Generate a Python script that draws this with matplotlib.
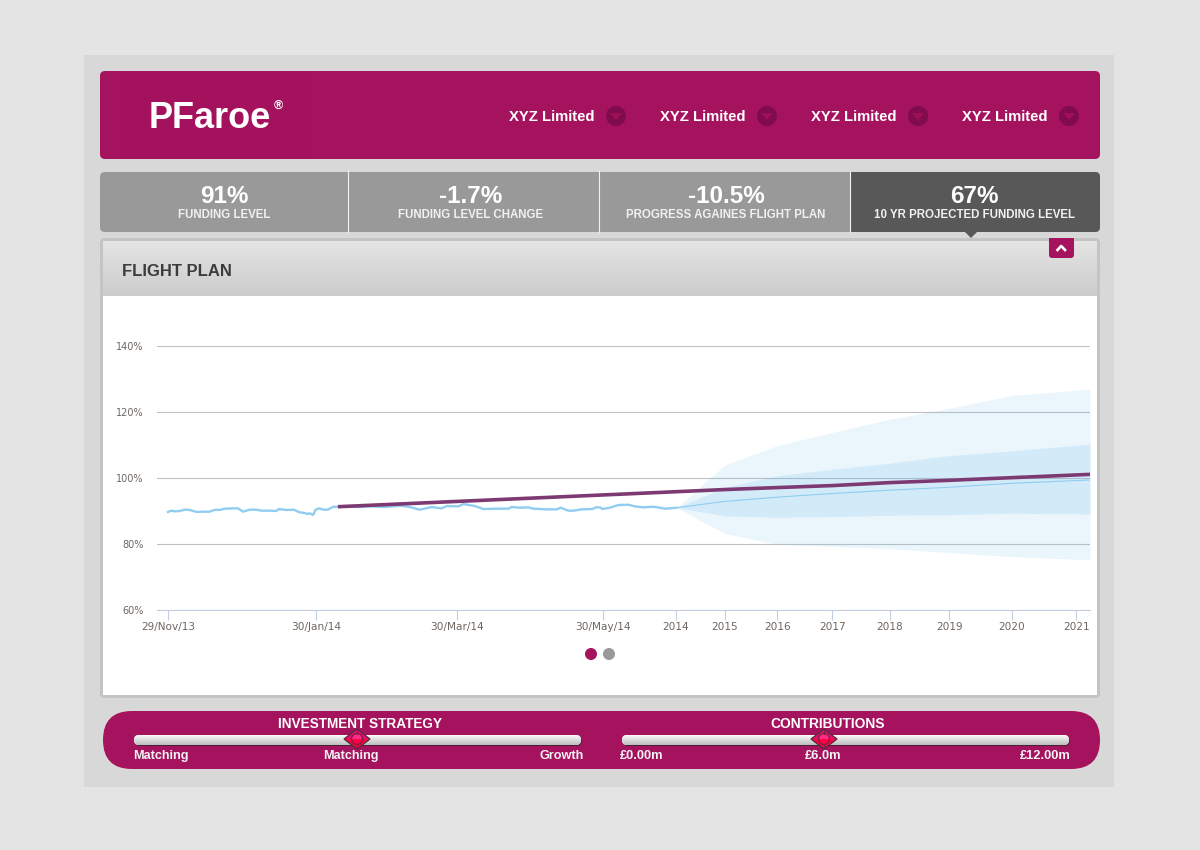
"""
PFaroe flight plan dashboard: funding level history, projection and funnel bands
"""
import numpy as np
import matplotlib
matplotlib.use("Agg")
import matplotlib.pyplot as plt
from matplotlib.patches import FancyBboxPatch, Polygon, Circle, Rectangle, Wedge

plt.rcParams["font.family"] = ["Liberation Sans", "DejaVu Sans"]

MAGENTA = "#a5135f"

# x values are days since 29/Nov/13
hist_days = [0, 1.4, 2.8, 4.9, 7.0, 9.1, 12.1, 14.6, 17.4, 19.9, 21.6, 23.7, 27.2, 29.3, 31.4, 34.2,
             37.0, 39.1, 42.5, 45.3, 46.4, 49.5, 52.6, 55.1, 57.2, 58.2, 59.3, 60.7, 61.8, 63.2, 65.1,
             66.9, 68.8, 71.1, 75, 80, 85, 90, 94, 97.1, 100.6, 105.4, 110.3, 114.5, 116.6, 121.5, 123.6,
             128.5, 131.9, 137.5, 142.4, 143.8, 147.3, 150.8, 152.8, 158.4, 162.6, 164.3, 167.5, 169.6,
             173.1, 177.7, 179, 180.8, 181.7, 184.9, 188.4, 192.6, 195.4, 198.9, 203.1, 208, 212.8]
hist_funding = [89.7, 90.1, 89.9, 90.0, 90.4, 90.3, 89.7, 89.8, 89.8, 90.4, 90.3, 90.7, 90.8, 90.8, 89.8, 90.4,
                90.4, 90.1, 90.1, 90.0, 90.6, 90.3, 90.4, 89.6, 89.4, 89.1, 89.3, 88.8, 90.4, 90.8, 90.4,
                90.4, 91.2, 91.3, 91.3, 91.2, 91.4, 91.2, 91.4, 91.6, 91.3, 90.4, 91.2, 90.8, 91.5, 91.4, 92.1,
                91.5, 90.6, 90.7, 90.7, 91.2, 91.0, 91.1, 90.7, 90.5, 90.5, 91.0, 90.1, 90.1,
                90.5, 90.6, 91.1, 91.1, 90.6, 91.0, 91.8, 91.9, 91.4, 91.1, 91.3, 90.7, 91.0]

proj_days = [212.8, 233, 255, 278, 302, 327, 353, 385.8]
proj_median = [91.0, 92.9, 94.2, 95.3, 96.3, 97.2, 98.4, 99.4]
outer_high = [91.0, 103.9, 109.8, 113.8, 117.8, 121.1, 125.0, 126.9]
outer_low = [91.0, 83.2, 79.9, 79.3, 78.6, 77.4, 76.2, 75.2]
inner_high = [91.0, 97.2, 100.7, 102.6, 104.5, 106.8, 108.2, 110.3]
inner_low = [91.0, 88.5, 88.1, 88.3, 88.7, 88.9, 89.3, 89.1]

plan_days = [71.1, 233, 255, 278, 302, 327, 353, 385.8]
plan_funding = [91.3, 96.5, 97.1, 97.7, 98.6, 99.3, 100.1, 101.1]

tick_days = [0, 62, 121, 182, 212.4, 233, 255, 278, 302, 327, 353, 380]
tick_labels = ["29/Nov/13", "30/Jan/14", "30/Mar/14", "30/May/14", "2014", "2015",
               "2016", "2017", "2018", "2019", "2020", "2021"]
y_ticks = [60, 80, 100, 120, 140]

company_names = ["XYZ Limited"] * 4
stat_values = ["91%", "-1.7%", "-10.5%", "67%"]
stat_labels = ["FUNDING LEVEL", "FUNDING LEVEL CHANGE", "PROGRESS AGAINES FLIGHT PLAN",
               "10 YR PROJECTED FUNDING LEVEL"]

fig = plt.figure(figsize=(12, 8.5), dpi=100, facecolor="#e4e4e4")

# page furniture is drawn in pixel coordinates
ui = fig.add_axes([0, 0, 1, 1])
ui.set_xlim(0, 1200)
ui.set_ylim(850, 0)
ui.axis("off")


def rrect(x0, y0, x1, y1, r, color, z=1, **kw):
    p = FancyBboxPatch((x0, y0), x1 - x0, y1 - y0, boxstyle=f"round,pad=0,rounding_size={r}",
                       fc=color, ec="none", zorder=z, **kw)
    ui.add_patch(p)
    return p


def vgrad(x0, y0, x1, y1, top, bottom, z=2, clip=None):
    c0 = np.array(matplotlib.colors.to_rgb(top))
    c1 = np.array(matplotlib.colors.to_rgb(bottom))
    g = np.linspace(0, 1, 64)[:, None, None]
    im = ui.imshow(c0 + (c1 - c0) * g, extent=(x0, x1, y1, y0), aspect="auto", zorder=z,
                   interpolation="bilinear")
    if clip is not None:
        im.set_clip_path(clip)
    ui.set_xlim(0, 1200)
    ui.set_ylim(850, 0)
    return im


def label(x, y, s, size, ha="center", color="white", weight="bold", z=5):
    ui.text(x, y, s, fontsize=size, ha=ha, va="center", color=color, fontweight=weight, zorder=z)


ui.add_patch(Rectangle((84, 55), 1030, 732, fc="#d8d8d8", ec="none", zorder=0))

# header
rrect(100, 71, 1100, 159, 5, MAGENTA)
ui.add_patch(Rectangle((120, 71), 192, 88, fc="#a4125e", ec="none", zorder=1.5))
label(210, 118.5, "PFaroe", 26, z=5)
label(278, 105.5, "®", 9)
for name, tx, cx in zip(company_names, [551.5, 702.5, 853.5, 1004.5], [616, 767, 918, 1069]):
    label(tx, 117, name, 10.7)
    ui.add_patch(Circle((cx, 116), 10, fc="#800c4d", ec="none", zorder=3))
    ui.add_patch(Polygon([(cx - 6, 113), (cx + 6, 113), (cx, 120)], fc="#a01059", ec="none", zorder=4))

# stat strip
rrect(100, 172, 1100, 232, 5, "#999999")
rrect(851, 172, 1100, 232, 5, "#585858", z=1.5)
ui.add_patch(Rectangle((850, 172), 10, 60, fc="#585858", ec="none", zorder=1.5))
for sx in [348, 599, 850]:
    ui.plot([sx, sx], [171, 232], color="#f2f2f2", lw=0.8, zorder=3)
for val, lab, sx in zip(stat_values, stat_labels, [224.5, 471, 726, 974]):
    label(sx, 196.5, val, 17.5)
    label(sx, 214.5, lab, 8.3, color="#f0f0f0")
ui.add_patch(Polygon([(965, 232), (977, 232), (971, 238)], fc="#585858", ec="none", zorder=3))

# chart panel
rrect(100, 238, 1100, 698, 4, "#c4c4c4")
ui.add_patch(Rectangle((103, 241), 994, 454, fc="white", ec="none", zorder=1.5))
vgrad(103, 241, 1097, 296, "#e4e4e4", "#cdcccd")
label(122, 271.5, "FLIGHT PLAN", 12, ha="left", color="#3c3c3c")
rrect(1049, 238, 1074, 258, 3, MAGENTA, z=3)
ui.add_patch(Rectangle((1049, 238), 25, 6, fc=MAGENTA, ec="none", zorder=3))
ui.plot([1057.5, 1061.2, 1065], [250, 246, 250], color="white", lw=1.9, zorder=4)

# pager dots
ui.add_patch(Circle((591, 654), 6, fc=MAGENTA, ec="none", zorder=3))
ui.add_patch(Circle((609, 654), 6, fc="#999999", ec="none", zorder=3))

# slider bar
rrect(103, 711, 1100, 769, 29, MAGENTA)
label(360, 723.5, "INVESTMENT STRATEGY", 9.8)
label(828, 723.5, "CONTRIBUTIONS", 9.9)
for x0, x1, hx in [(134, 581, 357), (622, 1069, 824)]:
    rrect(x0 + 1, 736, x1 + 1, 746, 5, "#4a2038", z=2)
    clip = rrect(x0, 735, x1, 745, 5, "white", z=2.5)
    vgrad(x0, 735, x1, 745, "#fbfbfb", "#bdbdbd", z=2.6, clip=clip)
    ui.add_patch(Polygon([(hx - 13, 739), (hx, 729), (hx + 13, 739)], fc="#e5106e", ec="none", zorder=3))
    ui.add_patch(Polygon([(hx - 13, 739), (hx, 749), (hx + 13, 739)], fc="#ff0044", ec="none", zorder=3))
    ui.add_patch(Polygon([(hx - 13, 739), (hx, 729), (hx + 13, 739), (hx, 749)], fc="none", ec="#50303a",
                         lw=0.9, zorder=4))
    ui.add_patch(Wedge((hx, 739), 5.5, 180, 360, fc="#ff2a86", ec="none", zorder=3.5))
    ui.add_patch(Circle((hx, 739), 5.5, fc="none", ec="#7a2040", lw=0.9, zorder=4))
    ui.plot([hx, hx], [729, 733.5], color="#7a2040", lw=0.8, zorder=4)
    ui.plot([hx, hx], [744.5, 749], color="#7a2040", lw=0.8, zorder=4)
label(133, 756, "Matching", 9.1, ha="left", color="#f4f4f4")
label(351, 756, "Matching", 9.1, color="#f4f4f4")
label(584, 756, "Growth", 9.1, ha="right", color="#f4f4f4")
label(620, 756, "£0.00m", 9.3, ha="left", color="#f4f4f4")
label(823, 756, "£6.0m", 9.3, color="#f4f4f4")
label(1071, 756, "£12.00m", 9.3, ha="right", color="#f4f4f4")

# chart
ax = fig.add_axes([157 / 1200, (850 - 610) / 850, (1090 - 157) / 1200, (610 - 346) / 850])
ax.patch.set_alpha(0)
ax.set_xlim(-4.6, 385.8)
ax.set_ylim(60, 140)
for s in ["top", "left", "right"]:
    ax.spines[s].set_visible(False)
ax.spines["bottom"].set_color("#c0d0e0")
ax.spines["bottom"].set_linewidth(0.8)
ax.set_axisbelow(True)
ax.yaxis.grid(True, color="#c0c0c0", lw=0.8)
ax.set_yticks(y_ticks)
ax.set_yticklabels([f"{v}%" for v in y_ticks])
ax.set_xticks(tick_days)
ax.set_xticklabels(tick_labels)
ax.tick_params(axis="y", length=0, pad=9.8, labelsize=7.0, labelcolor="#6e6660")
ax.tick_params(axis="x", length=7.2, width=0.8, color="#c0d0e0", pad=1.5, labelsize=7.6, labelcolor="#6e6660")
for lab in ax.get_xticklabels() + ax.get_yticklabels():
    lab.set_fontfamily("DejaVu Sans")

ax.fill_between(proj_days, outer_low, outer_high, color="#6cbcf0", alpha=0.14, lw=0)
ax.fill_between(proj_days, inner_low, inner_high, color="#62bcf0", alpha=0.17, lw=0)
ax.plot(hist_days, hist_funding, color="#90cdf0", lw=1.7)
ax.plot(proj_days, proj_median, color="#90cdf0", lw=0.8)
ax.plot(plan_days, plan_funding, color="#7d3a72", lw=2.6, solid_capstyle="butt")

fig.savefig("out.png", dpi=100, facecolor=fig.get_facecolor())
